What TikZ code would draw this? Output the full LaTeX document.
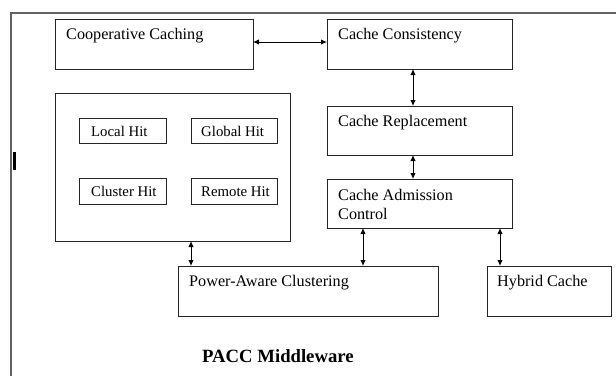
\documentclass[tikz,border=0pt]{standalone}
\usepackage{fontspec}
\setmainfont{Liberation Serif}
\usetikzlibrary{arrows.meta}
\tikzset{
  boxnode/.style={draw=black!85, line width=0.9pt, rectangle, inner sep=0pt, outer sep=0pt, anchor=north west},
  bigtxt/.style={anchor=base west, inner sep=0pt, font=\fontsize{16.2}{18}\selectfont},
  smalltxt/.style={anchor=base west, inner sep=0pt, font=\fontsize{14.8}{16}\selectfont},
  conn/.style={line width=1pt, {Latex[length=6pt,width=5.5pt]}-{Latex[length=6pt,width=5.5pt]}},
}
\begin{document}
\begin{tikzpicture}[x=1pt,y=-1pt]
\useasboundingbox (0,0) rectangle (616,376);
% outer frame
\draw[black!62, line width=1.2pt] (11,376) -- (11,13) -- (616,13);
% cursor bar
\fill[black] (13,152) rectangle (15.5,170);
% boxes
\node[boxnode, minimum width=198pt, minimum height=50pt] (coop) at (55,19) {};
\node[boxnode, minimum width=185pt, minimum height=50pt] (cons) at (327,19) {};
\node[boxnode, minimum width=185pt, minimum height=49pt] (repl) at (327,106) {};
\node[boxnode, minimum width=185pt, minimum height=49pt] (adm) at (327,179) {};
\node[boxnode, minimum width=235pt, minimum height=148pt] (big) at (55,93) {};
\node[boxnode, minimum width=87pt, minimum height=25pt] (local) at (79,118) {};
\node[boxnode, minimum width=86pt, minimum height=25pt] (global) at (191,118) {};
\node[boxnode, minimum width=87pt, minimum height=26pt] (cluster) at (79,178) {};
\node[boxnode, minimum width=86pt, minimum height=26pt] (remote) at (191,178) {};
\node[boxnode, minimum width=260pt, minimum height=50pt] (pac) at (178,266) {};
\node[boxnode, minimum width=124pt, minimum height=50pt] (hyb) at (487,266) {};
% texts
\node[bigtxt] (tcoop) at (66,39) {Cooperative Caching};
\node[bigtxt] (tcons) at (338,39) {Cache Consistency};
\node[bigtxt] (trepl) at (338,126) {Cache Replacement};
\node[bigtxt] (tadm1) at (338,200) {Cache Admission};
\node[bigtxt] (tadm2) at (338,219) {Control};
\node[smalltxt] (tlocal) at (91,136) {Local Hit};
\node[smalltxt] (tglobal) at (201,136) {Global Hit};
\node[smalltxt] (tcluster) at (91,196) {Cluster Hit};
\node[smalltxt] (tremote) at (201,196) {Remote Hit};
\node[bigtxt] (tpac) at (189,286) {Power-Aware Clustering};
\node[bigtxt] (thyb) at (497,286) {Hybrid Cache};
\node[anchor=base west, inner sep=0pt, font=\fontsize{18.7}{20}\selectfont\bfseries] (title) at (202,362.5) {PACC Middleware};
% connector columns
\coordinate (cA) at (413,0);
\coordinate (cB) at (191,0);
\coordinate (cC) at (363,0);
\coordinate (cD) at (500,0);
\coordinate (rowA) at (0,42);
% connectors
\draw[conn] (coop.east |- rowA) -- (cons.west |- rowA);
\draw[conn] (cons.south -| cA) -- (repl.north -| cA);
\draw[conn] (repl.south -| cA) -- (adm.north -| cA);
\draw[conn] (big.south -| cB) -- (pac.north -| cB);
\draw[conn] (adm.south -| cC) -- (pac.north -| cC);
\draw[conn] (adm.south -| cD) -- (hyb.north -| cD);
\end{tikzpicture}
\end{document}
